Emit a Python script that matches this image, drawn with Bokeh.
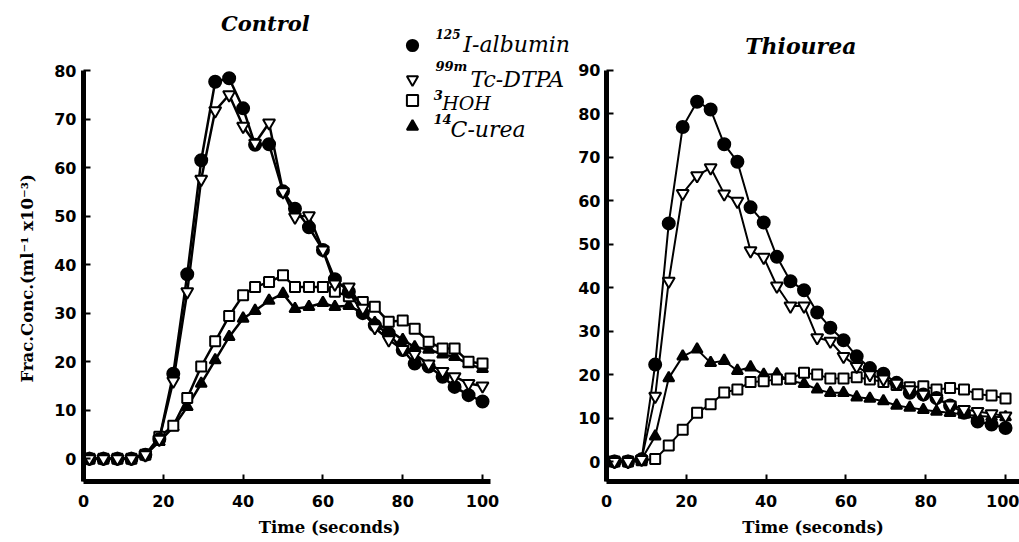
from bokeh.plotting import figure
from bokeh.layouts import row
from bokeh.models import Range1d, Legend, LegendItem, Label, FixedTicker, Title
from bokeh.embed import file_html
from bokeh.resources import INLINE

# ---------------- data ----------------
time_control = [1.5, 5, 8.5, 12, 15.5, 19, 22.5, 26, 29.5, 33, 36.5, 40, 43, 46.5, 50,
                53, 56.5, 60, 63, 66.5, 70, 73, 76.5, 80, 83, 86.5, 90, 93, 96.5, 100]
albumin_control = [0, 0, 0, 0, 0.8, 4, 17.5, 38, 61.5, 77.7, 78.4, 72.2, 64.7, 64.8, 55.1,
                   51.5, 47.7, 43, 37, 34.4, 30, 27.5, 25.8, 22.4, 19.6, 19, 16.9, 14.8, 13.1, 11.8]
dtpa_control = [0, 0, 0, 0, 0.8, 4, 16, 34.4, 57.6, 71.7, 75, 68.5, 65, 69.2, 55,
                49.8, 50.1, 43, 36, 35.4, 31, 27, 24.5, 22.5, 21.5, 19.5, 18, 16.9, 15.5, 15]
hoh_control = [0, 0, 0, 0, 0.8, 4.5, 6.8, 12.5, 19, 24.2, 29.4, 33.7, 35.4, 36.4, 37.8,
               35.4, 35.4, 35.4, 34.4, 33.5, 32.3, 31.3, 28.2, 28.5, 26.8, 24.1, 22.7, 22.7, 20, 19.6]
urea_control = [0, 0, 0, 0, 0.8, 3.5, 6.5, 10.7, 15.5, 20.3, 25.1, 28.9, 30.5, 32.6, 34,
                30.9, 31.3, 32.1, 31.3, 31.5, 30, 28, 26.5, 24.5, 23, 22.5, 21.5, 21, 19.5, 18.5]

time_thiourea = [2, 5.4, 8.8, 12.2, 15.6, 19.1, 22.7, 26.1, 29.5, 32.8, 36.1, 39.4, 42.7, 46.1, 49.5,
                 52.8, 56.1, 59.4, 62.7, 66, 69.4, 72.7, 76, 79.4, 82.7, 86.1, 89.6, 93, 96.5, 100]
albumin_thiourea = [0, 0, 0.5, 22.3, 54.8, 77, 82.8, 81, 73, 69, 58.5, 55, 47.1, 41.5, 39.4,
                    34.3, 30.8, 27.9, 24.2, 21.5, 20.2, 18.1, 15.8, 15.4, 14.6, 12.9, 11.2, 9.2, 8.5, 7.7]
dtpa_thiourea = [0, 0, 0.5, 15, 41.5, 61.7, 65.8, 67.6, 61.6, 59.9, 48.5, 47, 40.4, 35.8, 35.8,
                 28.5, 27.7, 24.2, 21.9, 20, 19, 18, 16.5, 15.5, 14.5, 13, 12, 11.5, 11, 10.5]
hoh_thiourea = [0, 0, 0.3, 0.6, 3.7, 7.3, 11.2, 13.2, 15.9, 16.6, 18.3, 18.5, 18.9, 19.1, 20.4,
                20, 19.1, 19.1, 19.4, 18.9, 18.3, 17.6, 17.1, 17.3, 16.6, 16.9, 16.6, 15.5, 15.2, 14.5]
urea_thiourea = [0, 0, 0.5, 5.8, 19.2, 24.2, 25.8, 22.7, 23.2, 20.9, 21.7, 20, 20.1, 18.6, 17.9,
                 16.6, 15.8, 15.8, 14.8, 14.5, 13.9, 12.9, 12.4, 11.9, 11.5, 11.2, 10.8, 10.5, 10.3, 10.2]

x_ticks = [0, 20, 40, 60, 80, 100]
y_ticks_control = [0, 10, 20, 30, 40, 50, 60, 70, 80]
y_ticks_thiourea = [0, 10, 20, 30, 40, 50, 60, 70, 80, 90]

SERIES_STYLE = {
    "urea": dict(marker="triangle", size=11, fill_color="black"),
    "hoh": dict(marker="square", size=10, fill_color="white"),
    "albumin": dict(marker="circle", size=12, fill_color="black"),
    "dtpa": dict(marker="inverted_triangle", size=12, fill_color="white"),
}

H = 542


def make_fig(width, xr, yr, xbounds, ybounds, yticks, bl):
    p = figure(width=width, height=H, x_range=Range1d(*xr), y_range=Range1d(*yr),
               output_backend="svg", toolbar_location=None,
               min_border_left=bl, min_border_right=0, min_border_top=0, min_border_bottom=61)
    p.outline_line_color = None
    p.grid.visible = False
    p.background_fill_color = "white"
    p.border_fill_color = "white"
    p.xaxis.ticker = FixedTicker(ticks=x_ticks)
    p.yaxis.ticker = FixedTicker(ticks=yticks)
    p.xaxis.bounds = xbounds
    p.yaxis.bounds = ybounds
    for ax in (p.xaxis[0], p.yaxis[0]):
        ax.axis_line_width = 5
        ax.axis_line_color = "black"
        ax.major_tick_in = 7
        ax.major_tick_out = 0
        ax.major_tick_line_width = 2
        ax.minor_tick_line_color = None
        ax.major_label_text_font = "DejaVu Sans"
        ax.major_label_text_font_style = "bold"
        ax.major_label_text_font_size = "16px"
        ax.major_label_text_color = "black"
        ax.axis_label_text_font = "DejaVu Serif"
        ax.axis_label_text_font_style = "bold"
        ax.axis_label_text_font_size = "16.5px"
        ax.axis_label_text_color = "black"
    p.xaxis.major_label_standoff = 13
    p.yaxis.major_label_standoff = 7
    p.xaxis.axis_label = "Time (seconds)"
    p.xaxis.axis_label_standoff = 8
    return p


def draw(p, t, series, lw):
    rends = {}
    for key in ["urea", "hoh", "albumin", "dtpa"]:
        st = SERIES_STYLE[key]
        p.line(t, series[key], line_color="black", line_width=lw)
        rends[key] = p.scatter(t, series[key], marker=st["marker"], size=st["size"],
                               fill_color=st["fill_color"], line_color="black", line_width=2)
    return rends


# ---------------- Control ----------------
p1 = make_fig(575, (0, 123.3), (-4.7, 94.43), (0, 102), (-4.7, 80), y_ticks_control, 83)
p1.add_layout(Title(text="Frac.Conc.(ml\u207b\u00b9 x10\u207b\u00b3)", align="left", offset=99,
                    standoff=26, vertical_align="top", text_font="DejaVu Serif",
                    text_font_style="bold", text_font_size="16.5px", text_color="black"), "left")
r1 = draw(p1, time_control, {"albumin": albumin_control, "dtpa": dtpa_control,
                             "hoh": hoh_control, "urea": urea_control}, 2.5)

p1.add_layout(Label(x=45.6, y=89.65, text="Control", text_font="DejaVu Serif",
                    text_font_style="bold italic", text_font_size="21px",
                    text_align="center", text_baseline="alphabetic", text_color="black"))

# legend glyphs (one legend per row so each sits exactly where it is in the figure)
leg_rows = [("albumin", 422), ("dtpa", 388), ("hoh", 367), ("urea", 341)]
for key, vy in leg_rows:
    lg = Legend(items=[LegendItem(label="", renderers=[r1[key]])], location=(314.7, vy),
                padding=0, spacing=0, margin=0, glyph_width=28, glyph_height=28,
                label_height=28, label_width=1, label_standoff=0,
                border_line_color=None, background_fill_alpha=0)
    p1.add_layout(lg)

# legend texts with their superscripts: (text, x, y, size, style)
legend_texts = [
    ("125", 88.2, 87.6, "12px", "bold italic"), ("I-albumin", 95.2, 85.46, "22px", "italic"),
    ("99m", 88.2, 80.75, "13px", "bold italic"), ("Tc-DTPA", 97.0, 78.2, "22px", "italic"),
    ("3", 87.8, 74.9, "13px", "bold italic"), ("HOH", 89.9, 73.4, "19px", "italic"),
    ("14", 87.7, 70.1, "13px", "bold italic"), ("C-urea", 92.0, 67.85, "22px", "italic"),
]
for txt, x, y, fs, style in legend_texts:
    p1.add_layout(Label(x=x, y=y, text=txt, text_font="DejaVu Serif",
                        text_font_style=style, text_font_size=fs, text_align="left",
                        text_baseline="alphabetic", text_color="black"))

# ---------------- Thiourea ----------------
p2 = make_fig(444, (0, 103.5), (-4.6, 106.1), (0, 103.5), (-4.6, 90), y_ticks_thiourea, 31)
p2.yaxis.major_label_standoff = 6
draw(p2, time_thiourea, {"albumin": albumin_thiourea, "dtpa": dtpa_thiourea,
                         "hoh": hoh_thiourea, "urea": urea_thiourea}, 2)
p2.add_layout(Label(x=48.7, y=95.6, text="Thiourea", text_font="DejaVu Serif",
                    text_font_style="bold italic", text_font_size="22px",
                    text_align="center", text_baseline="alphabetic", text_color="black"))

layout = row(p1, p2, spacing=0)
open("out.html", "w").write(file_html(layout, INLINE))
